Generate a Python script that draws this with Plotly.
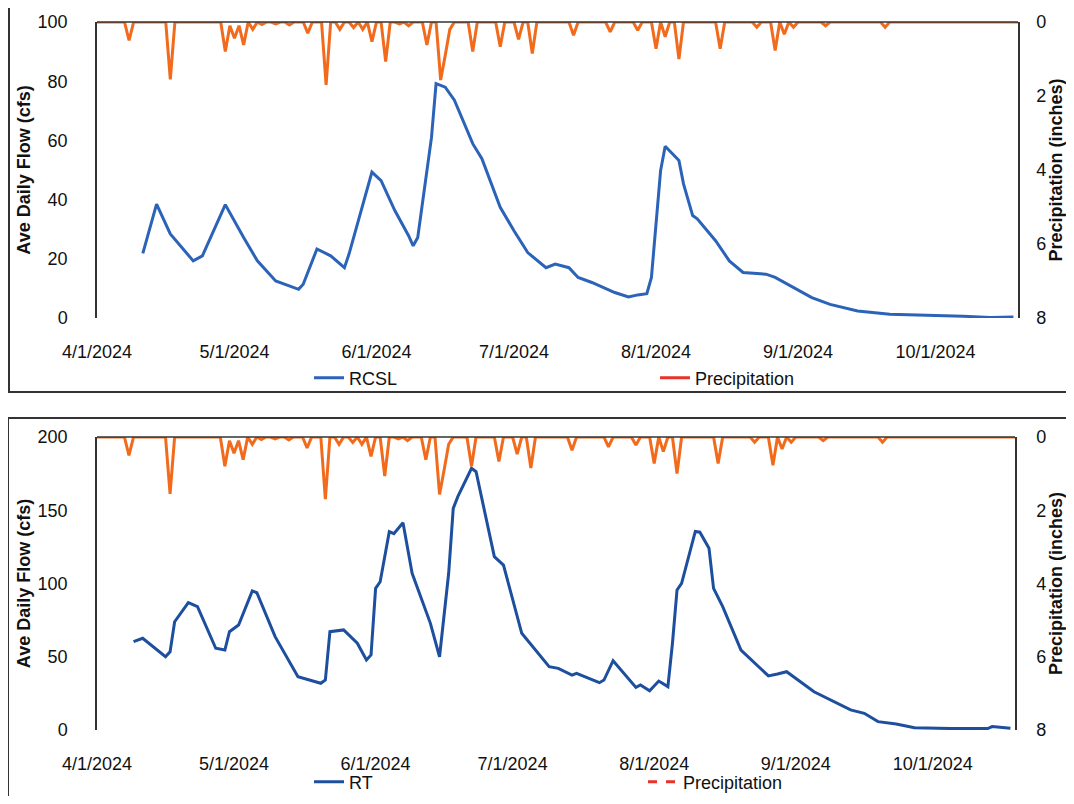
import pandas as pd
import plotly.graph_objects as go

# ---- data ----
month_ticks = ["2024-04-01", "2024-05-01", "2024-06-01", "2024-07-01",
               "2024-08-01", "2024-09-01", "2024-10-01"]
month_labels = ["4/1/2024", "5/1/2024", "6/1/2024", "7/1/2024",
                "8/1/2024", "9/1/2024", "10/1/2024"]

rcsl_dates = ["2024-04-11", "2024-04-14", "2024-04-17", "2024-04-22", "2024-04-24",
              "2024-04-29", "2024-05-03", "2024-05-06", "2024-05-10", "2024-05-15",
              "2024-05-16", "2024-05-19", "2024-05-22", "2024-05-25", "2024-05-26",
              "2024-05-31", "2024-06-02", "2024-06-05", "2024-06-08", "2024-06-09",
              "2024-06-10", "2024-06-13", "2024-06-14", "2024-06-16", "2024-06-18",
              "2024-06-22", "2024-06-24", "2024-06-28", "2024-07-01", "2024-07-04",
              "2024-07-08", "2024-07-10", "2024-07-13", "2024-07-15", "2024-07-18",
              "2024-07-23", "2024-07-26", "2024-07-28", "2024-07-30", "2024-07-31",
              "2024-08-02", "2024-08-03", "2024-08-06", "2024-08-07", "2024-08-09",
              "2024-08-10", "2024-08-14", "2024-08-17", "2024-08-20", "2024-08-25",
              "2024-08-27", "2024-08-31", "2024-09-04", "2024-09-08", "2024-09-14",
              "2024-09-21", "2024-09-29", "2024-10-03", "2024-10-07", "2024-10-13",
              "2024-10-18"]
rcsl_flow = [21.8, 38.5, 28.4, 19.3, 21.0,
             38.3, 27.2, 19.3, 12.5, 9.7,
             11.4, 23.3, 21.0, 17.0, 21.6,
             49.3, 46.4, 36.3, 27.8, 24.4,
             27.2, 61.0, 79.2, 78.0, 73.6,
             58.9, 53.8, 37.4, 29.5, 22.1,
             17.0, 18.2, 17.0, 13.7, 12.0,
             8.6, 7.1, 7.8, 8.2, 13.7,
             49.8, 58.0, 53.2, 45.3, 34.6,
             33.5, 26.1, 19.3, 15.4, 14.8,
             13.7, 10.3, 6.9, 4.6, 2.4,
             1.3, 0.8, 0.8, 0.6, 0.2,
             0.3]

rt_dates = ["2024-04-09", "2024-04-11", "2024-04-16", "2024-04-17", "2024-04-18",
            "2024-04-21", "2024-04-23", "2024-04-27", "2024-04-29", "2024-04-30",
            "2024-05-02", "2024-05-05", "2024-05-06", "2024-05-10", "2024-05-15",
            "2024-05-20", "2024-05-21", "2024-05-22", "2024-05-25", "2024-05-28",
            "2024-05-30", "2024-05-31", "2024-06-01", "2024-06-02", "2024-06-04",
            "2024-06-05", "2024-06-07", "2024-06-09", "2024-06-13", "2024-06-15",
            "2024-06-17", "2024-06-18", "2024-06-19", "2024-06-22", "2024-06-23",
            "2024-06-27", "2024-06-29", "2024-07-03", "2024-07-09", "2024-07-11",
            "2024-07-14", "2024-07-15", "2024-07-20", "2024-07-21", "2024-07-23",
            "2024-07-28", "2024-07-29", "2024-07-31", "2024-08-02", "2024-08-04",
            "2024-08-05", "2024-08-06", "2024-08-07", "2024-08-10", "2024-08-11",
            "2024-08-13", "2024-08-14", "2024-08-16", "2024-08-20", "2024-08-23",
            "2024-08-26", "2024-08-28", "2024-08-30", "2024-09-05", "2024-09-13",
            "2024-09-16", "2024-09-19", "2024-09-23", "2024-09-27", "2024-10-05",
            "2024-10-13", "2024-10-14", "2024-10-18"]
rt_flow = [60.3, 62.6, 50.0, 53.4, 73.9,
           86.9, 84.2, 55.8, 54.6, 67.1,
           71.7, 94.9, 93.7, 63.7, 36.4,
           31.9, 34.1, 67.1, 68.3, 59.2,
           47.8, 51.2, 96.7, 101.2, 135.4,
           134.0, 141.5, 107.0, 72.8, 50.0,
           107.0, 151.3, 159.3, 178.6, 176.3,
           118.3, 112.6, 66.0, 43.2, 42.1,
           37.5, 38.7, 32.3, 34.1, 47.3,
           29.1, 30.7, 26.8, 33.4, 29.6,
           59.2, 95.6, 100.1, 135.5, 135.0,
           124.0, 96.7, 84.2, 54.6, 45.5,
           36.9, 38.2, 39.8, 26.1, 13.7,
           11.4, 5.7, 4.1, 1.5, 1.0,
           1.0, 2.3, 1.2]

# daily rain (inches); days not listed had none
rain_dates = ["2024-04-08", "2024-04-17", "2024-04-29", "2024-04-30", "2024-05-01",
              "2024-05-02", "2024-05-03", "2024-05-05", "2024-05-07", "2024-05-10",
              "2024-05-13", "2024-05-17", "2024-05-21", "2024-05-24", "2024-05-27",
              "2024-05-29", "2024-05-31", "2024-06-03", "2024-06-06", "2024-06-08",
              "2024-06-12", "2024-06-15", "2024-06-16", "2024-06-17", "2024-06-22",
              "2024-06-28", "2024-07-02", "2024-07-05", "2024-07-14", "2024-07-22",
              "2024-07-28", "2024-08-01", "2024-08-03", "2024-08-06", "2024-08-15",
              "2024-08-23", "2024-08-27", "2024-08-29", "2024-08-31", "2024-09-07",
              "2024-09-20"]
rain_in = [0.50, 1.55, 0.80, 0.10, 0.44,
           0.10, 0.62, 0.20, 0.07, 0.05,
           0.08, 0.30, 1.70, 0.20, 0.15,
           0.20, 0.53, 1.07, 0.05, 0.10,
           0.62, 1.57, 0.90, 0.20, 0.80,
           0.67, 0.47, 0.85, 0.36, 0.27,
           0.22, 0.72, 0.40, 1.00, 0.72,
           0.14, 0.77, 0.33, 0.14, 0.10,
           0.14]

days = pd.date_range("2024-04-01", "2024-10-19", freq="D")
precip = pd.Series(rain_in, index=pd.to_datetime(rain_dates)).reindex(days, fill_value=0.0)

FLOW_TOP = "#2b63b8"
FLOW_BOT = "#1d4f9e"
RAIN = "#f26a1b"
LEG_RED = "#e8322a"
FONT = "Liberation Sans, Arial, sans-serif"

fig = go.Figure()

# top chart: RCSL
fig.add_trace(go.Scatter(x=rcsl_dates, y=rcsl_flow, mode="lines", name="RCSL",
                         line=dict(color=FLOW_TOP, width=3), xaxis="x", yaxis="y",
                         legend="legend"))
fig.add_trace(go.Scatter(x=precip.index, y=precip.values, mode="lines", showlegend=False,
                         line=dict(color=RAIN, width=3), xaxis="x", yaxis="y2"))
fig.add_trace(go.Scatter(x=[None], y=[None], mode="lines", name="Precipitation",
                         line=dict(color=LEG_RED, width=3), xaxis="x", yaxis="y2",
                         legend="legend"))

# bottom chart: RT
fig.add_trace(go.Scatter(x=rt_dates, y=rt_flow, mode="lines", name="RT",
                         line=dict(color=FLOW_BOT, width=3), xaxis="x2", yaxis="y3",
                         legend="legend2"))
fig.add_trace(go.Scatter(x=precip.index, y=precip.values, mode="lines", showlegend=False,
                         line=dict(color=RAIN, width=3), xaxis="x2", yaxis="y4"))
fig.add_trace(go.Scatter(x=[None], y=[None], mode="lines", name="Precipitation",
                         line=dict(color=LEG_RED, width=3, dash="dash"), xaxis="x2", yaxis="y4",
                         legend="legend2"))

# page body has an 8px margin, so the figure is a bit smaller than the window
OFF = 8
W, H = 1074 - 2 * OFF, 804 - 2 * OFF


def px(v):
    return (v - OFF) / W


def py(v):
    return 1 - (v - OFF) / H


xcommon = dict(type="date", range=["2024-04-01", "2024-10-19"], tickvals=month_ticks,
               ticktext=month_labels, showgrid=False, showline=False, ticks="",
               zeroline=False, ticklabelstandoff=21, automargin=False,
               tickfont=dict(size=18, color="#111"))
ycommon = dict(showgrid=False, zeroline=False, showline=True, linecolor="#333",
               linewidth=1.5, ticks="", automargin=False,
               tickfont=dict(size=18, color="#111"))

fig.update_layout(
    width=W, height=H,
    margin=dict(l=0, r=0, t=0, b=0, autoexpand=False),
    paper_bgcolor="white", plot_bgcolor="white",
    font=dict(family=FONT, color="#111"),
    xaxis=dict(domain=[px(97), px(1018)], anchor="y", **xcommon),
    yaxis=dict(domain=[py(318), py(22)], range=[0, 100], dtick=20,
               ticklabelstandoff=24,
               title=dict(text="<b>Ave Daily Flow (cfs)</b>", font=dict(size=18), standoff=2),
               **ycommon),
    yaxis2=dict(overlaying="y", side="right", anchor="x", range=[8, 0], dtick=2,
                ticklabelstandoff=13,
                title=dict(text="<b>Precipitation (inches)</b>", font=dict(size=18), standoff=4),
                **ycommon),
    xaxis2=dict(domain=[px(97), px(1015)], anchor="y3", **xcommon),
    yaxis3=dict(domain=[py(730), py(437)], anchor="x2", range=[0, 200], dtick=50,
                ticklabelstandoff=24,
                title=dict(text="<b>Ave Daily Flow (cfs)</b>", font=dict(size=18), standoff=2),
                **ycommon),
    yaxis4=dict(overlaying="y3", side="right", anchor="x2", range=[8, 0], dtick=2,
                ticklabelstandoff=16,
                title=dict(text="<b>Precipitation (inches)</b>", font=dict(size=18), standoff=6),
                **ycommon),
    legend=dict(orientation="h", x=px(309), y=py(378), xanchor="left", yanchor="middle",
                entrywidth=301, entrywidthmode="pixels", font=dict(size=18),
                bgcolor="rgba(0,0,0,0)"),
    legend2=dict(orientation="h", x=px(309), y=py(782), xanchor="left", yanchor="middle",
                 entrywidth=289, entrywidthmode="pixels", font=dict(size=18),
                 bgcolor="rgba(0,0,0,0)"),
    shapes=[
        # top border line of each plot area
        dict(type="line", xref="x domain", yref="y domain", x0=0, x1=1, y0=1, y1=1,
             line=dict(color="#333", width=1.5)),
        dict(type="line", xref="x2 domain", yref="y3 domain", x0=0, x1=1, y0=1, y1=1,
             line=dict(color="#333", width=1.5)),
        # scanned chart frames
        dict(type="rect", xref="paper", yref="paper", x0=px(9), x1=px(1090),
             y0=py(392), y1=py(6), line=dict(color="#333", width=2)),
        dict(type="rect", xref="paper", yref="paper", x0=px(8), x1=px(1090),
             y0=py(800), y1=py(418), line=dict(color="#333", width=2)),
    ],
)

fig.write_html("out.html")
